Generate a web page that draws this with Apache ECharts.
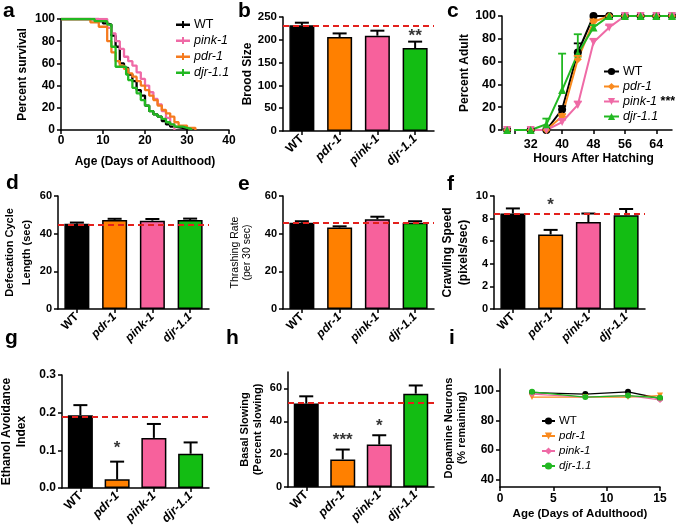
<!DOCTYPE html>
<html><head><meta charset="utf-8">
<script src="https://cdn.jsdelivr.net/npm/echarts@6/dist/echarts.min.js"></script>
<style>html,body{margin:0;padding:0;background:#fff}#c{width:685px;height:530px}</style>
</head><body><div id="c"></div>
<script>
// ---------- DATA ----------
const cats = ['WT', 'pdr-1', 'pink-1', 'djr-1.1'];

// a: survival (day, percent)
const survWT   = [[0,100],[9,98],[10,96],[11,95],[12,85],[13,75],[14,60],[15,56],[16,50],[17,44],[18,36],[19,31],[20,22],[21,17],[22,14],[23,12],[24,8],[25,5],[26,3],[27,2],[29,1],[30,0]];
const survPink = [[0,100],[11,92],[12,87],[13,80],[14,73],[15,66],[16,62],[17,58],[18,52],[19,46],[20,40],[21,34],[22,28],[23,23],[24,17],[25,11],[26,5],[27,0]];
const survPdr  = [[0,100],[7,97],[9,93],[11,80],[12,70],[13,62],[14,58],[15,55],[16,51],[17,48],[18,44],[19,40],[20,36],[21,31],[22,27],[23,22],[24,18],[25,15],[26,12],[27,7],[28,4],[30,2],[32,0]];
const survDjr  = [[0,100],[8,98],[11,95],[12,75],[13,57],[15.5,50],[16,45],[17,38],[18,33],[19,27],[20,22],[21,17],[22,14],[23,12],[24,10],[25,7],[26,5],[27,3],[29,2],[30,1],[31,0]];

// b: brood size
const brood = [232, 206, 209, 182];
const broodErr = [237.5, 214, 220, 196];
const broodRef = 231;
const broodSig = ['', '', '', '**'];

// c: development
const hours   = [26, 32, 36, 40, 44, 48, 52, 56, 60, 64, 68];
const devWT   = [0, 0, 0, 18, 68, 100, 100, 100, 100, 100, 100];
const devPdr  = [0, 0, 0, 12, 62, 95, 100, 100, 100, 100, 100];
const devPink = [0, 0, 0, 7, 22, 77, 90, 100, 100, 100, 100];
const devDjr  = [0, 0, 5, 35, 67, 90, 100, 100, 100, 100, 100];
const devWTErr   = [0, 0, 0, 21, 76, 100, 100, 100, 100, 100, 100];
const devPdrErr  = [0, 0, 0, 14, 65, 97, 100, 100, 100, 100, 100];
const devPinkErr = [0, 0, 0, 9, 25, 80, 92, 100, 100, 100, 100];
const devDjrErr  = [0, 0, 10, 67, 84, 92, 100, 100, 100, 100, 100];
const hourTicks  = [28, 32, 40, 48, 56, 64];
const hourLabels = [32, 40, 48, 56, 64];

// d: defecation
const defec = [45.3, 47.3, 46.9, 47.3];
const defecErr = [45.9, 47.9, 47.8, 48.0];
const defecRef = 44.5;

// e: thrashing
const thrash = [45.8, 43.3, 47.6, 45.8];
const thrashErr = [46.6, 43.9, 49.0, 46.6];
const thrashRef = 45.8;

// f: crawling
const crawl = [8.45, 6.6, 7.7, 8.3];
const crawlErr = [8.9, 7.0, 8.45, 8.85];
const crawlRef = 8.4;
const crawlSig = ['', '*', '', ''];

// g: ethanol
const etoh = [0.193, 0.023, 0.133, 0.091];
const etohErr = [0.22, 0.07, 0.17, 0.121];
const etohRef = 0.192;
const etohSig = ['', '*', '', ''];

// h: basal slowing
const basal = [50.8, 16.8, 25.8, 56.8];
const basalErr = [55.2, 22.8, 31.5, 61.8];
const basalRef = 51;
const basalSig = ['', '***', '*', ''];
const basalTicks = [0, 20, 40, 60];

// i: dopamine neurons
const daDays = [3, 8, 12, 15];
const daWT   = [99, 98, 99.5, 95];
const daPdr  = [96, 96, 96, 97];
const daPink = [98, 96, 97, 94];
const daDjr  = [99.5, 96, 97, 95.5];
const daTicks = [40, 60, 80, 100];

// ---------- STYLE ----------
const FONT = '"Liberation Sans", Arial, Helvetica, sans-serif';
const black = '#000';
const barColors = ['#000000', '#ff8000', '#f7619c', '#13bd13'];
const C = { WT: '#000000', pdr: '#f98a1f', pink: '#ef6aa6', djr: '#22b822', red: '#e3201c' };

function merge(a, b) {
  for (const k in b) {
    if (b[k] && typeof b[k] === 'object' && !Array.isArray(b[k]) && a[k] && typeof a[k] === 'object') merge(a[k], b[k]);
    else a[k] = b[k];
  }
  return a;
}
function axisBase() {
  return {
    axisLine: { show: true, onZero: false, lineStyle: { color: black, width: 1.5 } },
    axisTick: { show: true, length: 4, lineStyle: { color: black, width: 1.5 } },
    splitLine: { show: false },
    axisLabel: { color: black, fontFamily: FONT, fontWeight: 'bold', fontSize: 12, margin: 6 },
    nameLocation: 'middle',
    nameTextStyle: { color: black, fontFamily: FONT, fontWeight: 'bold', fontSize: 12 }
  };
}
function catAxis(gi, fs) {
  return merge(axisBase(), {
    type: 'category', gridIndex: gi, data: cats,
    axisTick: { alignWithLabel: true },
    axisLabel: {
      rotate: 45, fontSize: fs, margin: 6,
      formatter: v => v === 'WT' ? v : '{i|' + v + '}',
      rich: { i: { fontStyle: 'italic', fontWeight: 'bold', fontSize: fs, fontFamily: FONT, color: black } }
    }
  });
}
function valAxis(gi, o) { return merge(merge(axisBase(), { type: 'value', gridIndex: gi }), o); }

const grids = [
  { left: 61, top: 19, width: 168, height: 111 },
  { left: 283, top: 17, width: 151, height: 114 },
  { left: 515, top: 16, width: 157, height: 114 },
  { left: 58, top: 196, width: 151, height: 113 },
  { left: 283, top: 196, width: 151, height: 113 },
  { left: 494, top: 196, width: 151, height: 113 },
  { left: 62, top: 375, width: 147, height: 113 },
  { left: 288, top: 372, width: 146, height: 115 },
  { left: 500, top: 369, width: 160, height: 118 }
].map(g => Object.assign(g, { containLabel: false, outerBoundsMode: 'none' }));

const xAxes = [
  valAxis(0, { min: 0, max: 40, interval: 10, name: 'Age (Days of Adulthood)', nameGap: 26, axisLabel: { margin: 5 } }),
  catAxis(1, 12.5),
  valAxis(2, { min: 28, max: 68, name: 'Hours After Hatching', nameGap: 23,
    axisTick: { customValues: hourTicks }, axisLabel: { customValues: hourLabels, margin: 8, fontSize: 12.5 } }),
  catAxis(3, 12), catAxis(4, 12), catAxis(5, 12), catAxis(6, 12.5), catAxis(7, 12.5),
  valAxis(8, { min: 0, max: 15, interval: 5, name: 'Age (Days of Adulthood)', nameGap: 21,
    nameTextStyle: { fontSize: 11.5 }, axisLabel: { margin: 6 } })
];
const yAxes = [
  valAxis(0, { min: 0, max: 100, interval: 20, name: 'Percent survival', nameGap: 32 }),
  valAxis(1, { min: 0, max: 250, interval: 50, name: 'Brood Size', nameGap: 24, axisLabel: { fontSize: 11.5 } }),
  valAxis(2, { min: 0, max: 100, interval: 20, name: 'Percent Adult', nameGap: 31, offset: 13, axisLabel: { fontSize: 12.5 } }),
  valAxis(3, { min: 0, max: 60, interval: 20, name: 'Defecation Cycle\nLength (sec)', nameGap: 17,
    nameTextStyle: { fontSize: 11, lineHeight: 17 }, axisLabel: { fontSize: 11 } }),
  valAxis(4, { min: 0, max: 60, interval: 20, name: 'Thrashing Rate\n(per 30 sec)', nameGap: 30,
    nameTextStyle: { fontSize: 10.5, fontWeight: 'normal', lineHeight: 12 }, axisLabel: { fontSize: 11 } }),
  valAxis(5, { min: 0, max: 10, interval: 2, name: 'Crawling Speed\n(pixels/sec)', nameGap: 19,
    nameTextStyle: { lineHeight: 16 }, axisLabel: { fontSize: 11 } }),
  valAxis(6, { min: 0, max: 0.3, interval: 0.1, name: 'Ethanol Avoidance\nIndex', nameGap: 33,
    nameTextStyle: { lineHeight: 15 }, axisLabel: { formatter: v => v.toFixed(1) } }),
  valAxis(7, { min: 0, max: 70, name: 'Basal Slowing\n(Percent slowing)', nameGap: 24,
    nameTextStyle: { fontSize: 11, lineHeight: 13 },
    axisTick: { customValues: basalTicks }, axisLabel: { customValues: basalTicks, fontSize: 11 } }),
  valAxis(8, { min: 35, max: 115, name: 'Dopamine Neurons\n(% remaining)', nameGap: 32,
    nameTextStyle: { fontSize: 11, lineHeight: 13 },
    axisTick: { customValues: daTicks }, axisLabel: { customValues: daTicks } })
];

function errSeries(gi, data, color, cap, lw) {
  return {
    type: 'custom', xAxisIndex: gi, yAxisIndex: gi, data: data, z: 4, silent: true, clip: false,
    renderItem: (params, api) => {
      const x = api.value(0), v = api.value(1), h = api.value(2);
      if (!(h > v)) return null;
      const p0 = api.coord([x, v]), p1 = api.coord([x, h]);
      return { type: 'group', children: [
        { type: 'line', shape: { x1: p0[0], y1: p0[1], x2: p1[0], y2: p1[1] }, style: { stroke: color, lineWidth: lw } },
        { type: 'line', shape: { x1: p1[0] - cap, y1: p1[1], x2: p1[0] + cap, y2: p1[1] }, style: { stroke: color, lineWidth: lw } }
      ] };
    }
  };
}
function starSeries(gi, sig, anchors, dist) {
  const data = [];
  sig.forEach((s, i) => { if (s) data.push({ value: [i, anchors[i]], label: { formatter: s } }); });
  return {
    type: 'scatter', xAxisIndex: gi, yAxisIndex: gi, symbol: 'circle', symbolSize: 1,
    itemStyle: { color: 'rgba(0,0,0,0)' }, silent: true, z: 6,
    data: data,
    label: { show: true, position: 'top', distance: dist, color: black, fontFamily: FONT, fontWeight: 'bold', fontSize: 17 }
  };
}
function barPanel(gi, vals, errs, ref, sig, anchors, dist) {
  const out = [{
    type: 'bar', xAxisIndex: gi, yAxisIndex: gi, barWidth: 25,
    data: vals.map((v, i) => ({ value: v, itemStyle: { color: barColors[i] } })),
    itemStyle: { borderColor: black, borderWidth: 1.5 },
    markLine: { symbol: 'none', silent: true, label: { show: false },
      lineStyle: { color: C.red, type: [6, 4], width: 2 }, data: [{ yAxis: ref }] }
  }, errSeries(gi, vals.map((v, i) => [i, v, errs[i]]), black, 7, 2)];
  if (sig) out.push(starSeries(gi, sig, anchors, dist));
  return out;
}
function survLine(name, data, color) {
  return { type: 'line', name: 'a:' + name, xAxisIndex: 0, yAxisIndex: 0, step: 'end', data: data,
    symbol: 'none', lineStyle: { width: 2.3, color: color }, itemStyle: { color: color } };
}
function devLine(name, vals, color, symbol, rot) {
  return { type: 'line', name: 'c:' + name, xAxisIndex: 2, yAxisIndex: 2, clip: false,
    data: hours.map((h, i) => [h, vals[i]]), symbol: symbol, symbolSize: 8, symbolRotate: rot || 0,
    lineStyle: { width: 2, color: color }, itemStyle: { color: color } };
}
function daLine(name, vals, color, symbol, rot) {
  return { type: 'line', name: 'i:' + name, xAxisIndex: 8, yAxisIndex: 8,
    data: daDays.map((d, i) => [d, vals[i]]), symbol: symbol, symbolSize: 6, symbolRotate: rot || 0,
    lineStyle: { width: 1.3, color: color }, itemStyle: { color: color } };
}

const series = [
  survLine('WT', survWT, C.WT), survLine('pink-1', survPink, C.pink),
  survLine('pdr-1', survPdr, '#f57a1e'), survLine('djr-1.1', survDjr, C.djr),
  ...barPanel(1, brood, broodErr, broodRef, broodSig, broodErr, -4),
  devLine('WT', devWT, C.WT, 'circle'), devLine('pdr-1', devPdr, C.pdr, 'diamond'),
  devLine('pink-1 ***', devPink, C.pink, 'triangle', 180), devLine('djr-1.1', devDjr, C.djr, 'triangle'),
  errSeries(2, hours.map((h, i) => [h, devWT[i], devWTErr[i]]), C.WT, 4, 1.8),
  errSeries(2, hours.map((h, i) => [h, devPdr[i], devPdrErr[i]]), C.pdr, 4, 1.8),
  errSeries(2, hours.map((h, i) => [h, devPink[i], devPinkErr[i]]), C.pink, 4, 1.8),
  errSeries(2, hours.map((h, i) => [h, devDjr[i], devDjrErr[i]]), C.djr, 4, 1.8),
  ...barPanel(3, defec, defecErr, defecRef),
  ...barPanel(4, thrash, thrashErr, thrashRef),
  ...barPanel(5, crawl, crawlErr, crawlRef, crawlSig, cats.map(() => crawlRef), 0),
  ...barPanel(6, etoh, etohErr, etohRef, etohSig, etohErr, 4),
  ...barPanel(7, basal, basalErr, basalRef, basalSig, basalErr, 0),
  daLine('WT', daWT, C.WT, 'circle'), daLine('pdr-1', daPdr, C.pdr, 'triangle', 180),
  daLine('pink-1', daPink, C.pink, 'diamond'), daLine('djr-1.1', daDjr, C.djr, 'circle')
];

function legendFmt(name) {
  const t = name.slice(2);
  if (t === 'WT') return t;
  const parts = t.split(' ');
  return '{i|' + parts[0] + '}' + (parts[1] ? ' {b|' + parts[1] + '}' : '');
}
function legend(prefix, names, left, top, fs, gap, iw, icon) {
  const l = {
    orient: 'vertical', left: left, top: top, padding: 0, itemGap: gap, itemWidth: iw, itemHeight: 9,
    selectedMode: false, data: names.map(n => prefix + n), formatter: legendFmt,
    textStyle: { color: black, fontFamily: FONT, fontSize: fs, padding: [0, 0, 0, -1],
      rich: { i: { fontStyle: 'italic', fontSize: fs, fontFamily: FONT, color: black },
              b: { fontWeight: 'bold', fontSize: fs, fontFamily: FONT, color: black } } }
  };
  if (icon) l.icon = icon;
  return l;
}

const letters = [['a', 3, 1], ['b', 238, 1], ['c', 447, 1], ['d', 6, 173], ['e', 238, 174], ['f', 447, 174],
                 ['g', 5, 328], ['h', 226, 328], ['i', 449, 328]];

const option = {
  animation: false,
  backgroundColor: '#fff',
  title: letters.map(l => ({ text: l[0], left: l[1], top: l[2], padding: 0,
    textStyle: { fontFamily: FONT, fontWeight: 'bold', fontSize: 21, color: black } })),
  legend: [
    legend('a:', ['WT', 'pink-1', 'pdr-1', 'djr-1.1'], 176, 18, 12.5, 3, 14, 'path://M0,4h14v2.4h-14z M6,1.5h2v7h-2z'),
    legend('c:', ['WT', 'pdr-1', 'pink-1 ***', 'djr-1.1'], 603, 65, 12.5, 2, 15),
    legend('i:', ['WT', 'pdr-1', 'pink-1', 'djr-1.1'], 541, 415, 11.5, 3, 13)
  ],
  grid: grids,
  xAxis: xAxes,
  yAxis: yAxes,
  series: series
};

const chart = echarts.init(document.getElementById('c'), null, { renderer: 'canvas' });
chart.setOption(option);
</script>
</body></html>
